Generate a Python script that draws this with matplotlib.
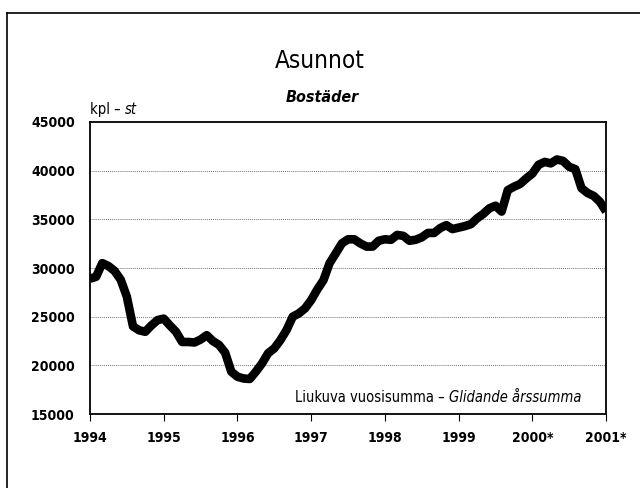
import matplotlib
matplotlib.use("Agg")
import matplotlib.pyplot as plt
from matplotlib.lines import Line2D
import numpy as np

plt.rcParams['font.family'] = ['DejaVu Sans']
plt.rcParams['font.stretch'] = 'condensed'

# Monthly moving annual sum, Jan 1994 .. Jan 2001
values = [
    28900, 29100, 30500, 30200, 29700, 28800, 27050, 24000, 23600, 23450, 24100, 24650,  # 1994
    24800, 24100, 23450, 22400, 22400, 22350, 22650, 23100, 22500, 22100, 21300, 19350,  # 1995
    18830, 18650, 18600, 19350, 20200, 21250, 21750, 22600, 23630, 25000, 25340, 25850,  # 1996
    26700, 27800, 28750, 30500, 31500, 32530, 32950, 32950, 32530, 32200, 32200, 32800,  # 1997
    32950, 32900, 33400, 33300, 32800, 32900, 33150, 33600, 33600, 34100, 34400, 34000,  # 1998
    34150, 34300, 34500, 35100, 35550, 36130, 36400, 35800, 38000, 38350, 38630, 39200,  # 1999
    39700, 40600, 40900, 40750, 41150, 41000, 40400, 40150, 38200, 37700, 37400, 36800,  # 2000
    35800,                                                                                  # 2001
]
years = [1994, 1995, 1996, 1997, 1998, 1999, 2000, 2001]
year_labels = ['1994', '1995', '1996', '1997', '1998', '1999', '2000*', '2001*']
yticks = [15000, 20000, 25000, 30000, 35000, 40000, 45000]

title = 'Asunnot'
subtitle = 'Bostäder'
unit_fi = 'kpl –'
unit_sv = 'st'
note_fi = 'Liukuva vuosisumma –'
note_sv = 'Glidande årssumma'

x = 1994 + np.arange(len(values)) / 12.0

fig = plt.figure(figsize=(6.4, 4.88), dpi=100)
ax = fig.add_axes([0.1406, 0.1516, 0.8064, 0.5984])

ax.plot(x, values, color='black', lw=6.2, solid_joinstyle='round', solid_capstyle='butt', zorder=3)

ax.set_xlim(1994, 2001)
ax.set_ylim(15000, 45000)
ax.set_xticks(years)
ax.set_xticklabels(year_labels, fontsize=10, fontweight='bold', stretch='condensed')
ax.set_yticks(yticks)
ax.set_yticklabels([str(v) for v in yticks], fontsize=10, fontweight='bold', stretch='condensed')
ax.tick_params(axis='x', direction='out', length=5, width=0.8, pad=7)
ax.tick_params(axis='y', length=0, pad=11)
for g in [20000, 25000, 30000, 35000, 40000]:
    ax.axhline(g, color='#777777', lw=0.7, ls=(0, (1, 1)), zorder=1)
for s in ax.spines.values():
    s.set_linewidth(1.3)

fig.text(0.5, 0.861, title, ha='center', va='baseline', fontsize=17.5, stretch='condensed')
fig.text(0.503, 0.79, subtitle, ha='center', va='baseline', fontsize=11.5, style='italic',
         fontweight='bold', stretch='condensed')

u1 = ax.text(0.0, 1.028, unit_fi, transform=ax.transAxes, ha='left', va='baseline', fontsize=10.5,
             stretch='condensed')
ax.annotate(unit_sv, xy=(1, 0), xycoords=u1, xytext=(3, 0), textcoords='offset points',
            ha='left', va='bottom', fontsize=10.5, style='italic', stretch='condensed')

n2 = ax.text(0.953, 0.04, note_sv, transform=ax.transAxes, ha='right', va='baseline', fontsize=10.5,
             style='italic', stretch='condensed')
ax.annotate(note_fi, xy=(0, 0), xycoords=n2, xytext=(-3.5, 0), textcoords='offset points',
            ha='right', va='bottom', fontsize=10.5, stretch='condensed')

# outer frame
fig.add_artist(Line2D([7/640, 1.0], [1 - 13/488, 1 - 13/488], color='black', lw=1.2, transform=fig.transFigure))
fig.add_artist(Line2D([7/640, 7/640], [0, 1 - 13/488], color='black', lw=1.2, transform=fig.transFigure))

fig.savefig('out.png', dpi=100)
